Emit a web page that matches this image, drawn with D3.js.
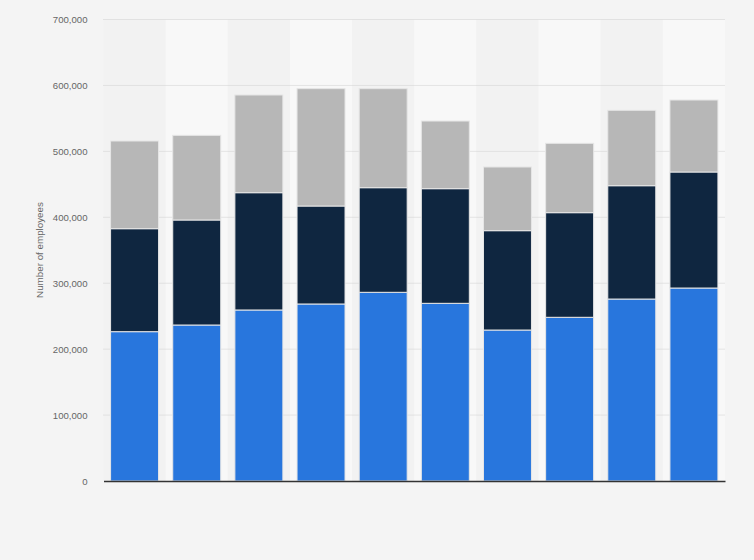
<!DOCTYPE html>
<html>
<head>
<meta charset="utf-8">
<script src="https://cdn.jsdelivr.net/npm/d3@7"></script>
<style>
  html, body { margin: 0; padding: 0; background: #f4f4f4; }
  svg { display: block; font-family: "Liberation Sans", Arial, sans-serif; }
</style>
</head>
<body>
<svg id="chart" width="754" height="560"></svg>
<script>
// Data (thousands of employees are stored as full counts)
const categories = ["1", "2", "3", "4", "5", "6", "7", "8", "9", "10"];
const seriesNames = ["Segment A", "Segment B", "Segment C"];
const segmentA = [226500, 236600, 259400, 268500, 286200, 269500, 229000, 248300, 276000, 292700];
const segmentB = [156200, 159300, 177900, 148600, 158700, 173900, 150700, 158700, 171900, 176000];
const segmentC = [133000, 128400, 148200, 178000, 150200, 102600, 96600, 105200, 114400, 109200];
const yTicks = [0, 100000, 200000, 300000, 400000, 500000, 600000, 700000];
const yTitle = "Number of employees";

const colors = ["#2876dd", "#0f2640", "#b7b7b7"];

const svg = d3.select("#chart");
const W = 754, H = 560;
const margin = { left: 103.5, right: 29, top: 19.5, bottom: 79 };
const x0 = margin.left, x1 = W - margin.right;
const yTop = margin.top, yBot = H - margin.bottom;

svg.append("rect").attr("width", W).attr("height", H).attr("fill", "#f4f4f4");

const x = d3.scaleBand().domain(categories).range([x0, x1]).paddingInner(0.228).paddingOuter(0.114);
const y = d3.scaleLinear().domain([0, 700000]).range([yBot, yTop]);

// alternating column bands
const step = x.step();
svg.append("g").selectAll("rect").data(categories).join("rect")
  .attr("x", d => x(d) - x.paddingInner() * step / 2)
  .attr("y", yTop)
  .attr("width", step)
  .attr("height", yBot - yTop)
  .attr("fill", (d, i) => i % 2 === 1 ? "#f8f8f8" : "#f2f2f2");

// gridlines
svg.append("g").selectAll("line").data(yTicks.filter(t => t > 0)).join("line")
  .attr("x1", x0).attr("x2", x1)
  .attr("y1", d => y(d)).attr("y2", d => y(d))
  .attr("stroke", "#cfcfcf").attr("stroke-width", 1)
  .attr("stroke-dasharray", "1,1");

// y axis
const yAxis = d3.axisLeft(y).tickValues(yTicks)
  .tickFormat(d3.format(",")).tickSize(0).tickPadding(16);
const gy = svg.append("g").attr("transform", `translate(${x0},0)`).call(yAxis);
gy.select(".domain").remove();
gy.selectAll("text").attr("fill", "#666").style("font-size", "9.6px");

// stacked data
const rows = categories.map((c, i) => ({ cat: c, a: segmentA[i], b: segmentB[i], c: segmentC[i] }));
const stack = d3.stack().keys(["a", "b", "c"]);
const layers = stack(rows);

svg.append("g").selectAll("g").data(layers).join("g")
  .attr("fill", (d, i) => colors[i])
  .selectAll("rect").data(d => d).join("rect")
  .attr("x", d => x(d.data.cat))
  .attr("y", d => y(d[1]))
  .attr("width", x.bandwidth())
  .attr("height", d => y(d[0]) - y(d[1]))
  .attr("stroke", "#e6e6e6").attr("stroke-width", 1);

// x axis baseline
const xAxis = d3.axisBottom(x).tickSize(0).tickFormat("");
const gx = svg.append("g").attr("transform", `translate(0,${yBot})`).call(xAxis);
gx.select(".domain").attr("stroke", "#333").attr("stroke-width", 1.5);

// y title
svg.append("text")
  .attr("transform", `translate(43,250) rotate(-90)`)
  .attr("text-anchor", "middle")
  .attr("fill", "#666")
  .style("font-size", "9.8px")
  .text(yTitle);
</script>
</body>
</html>
